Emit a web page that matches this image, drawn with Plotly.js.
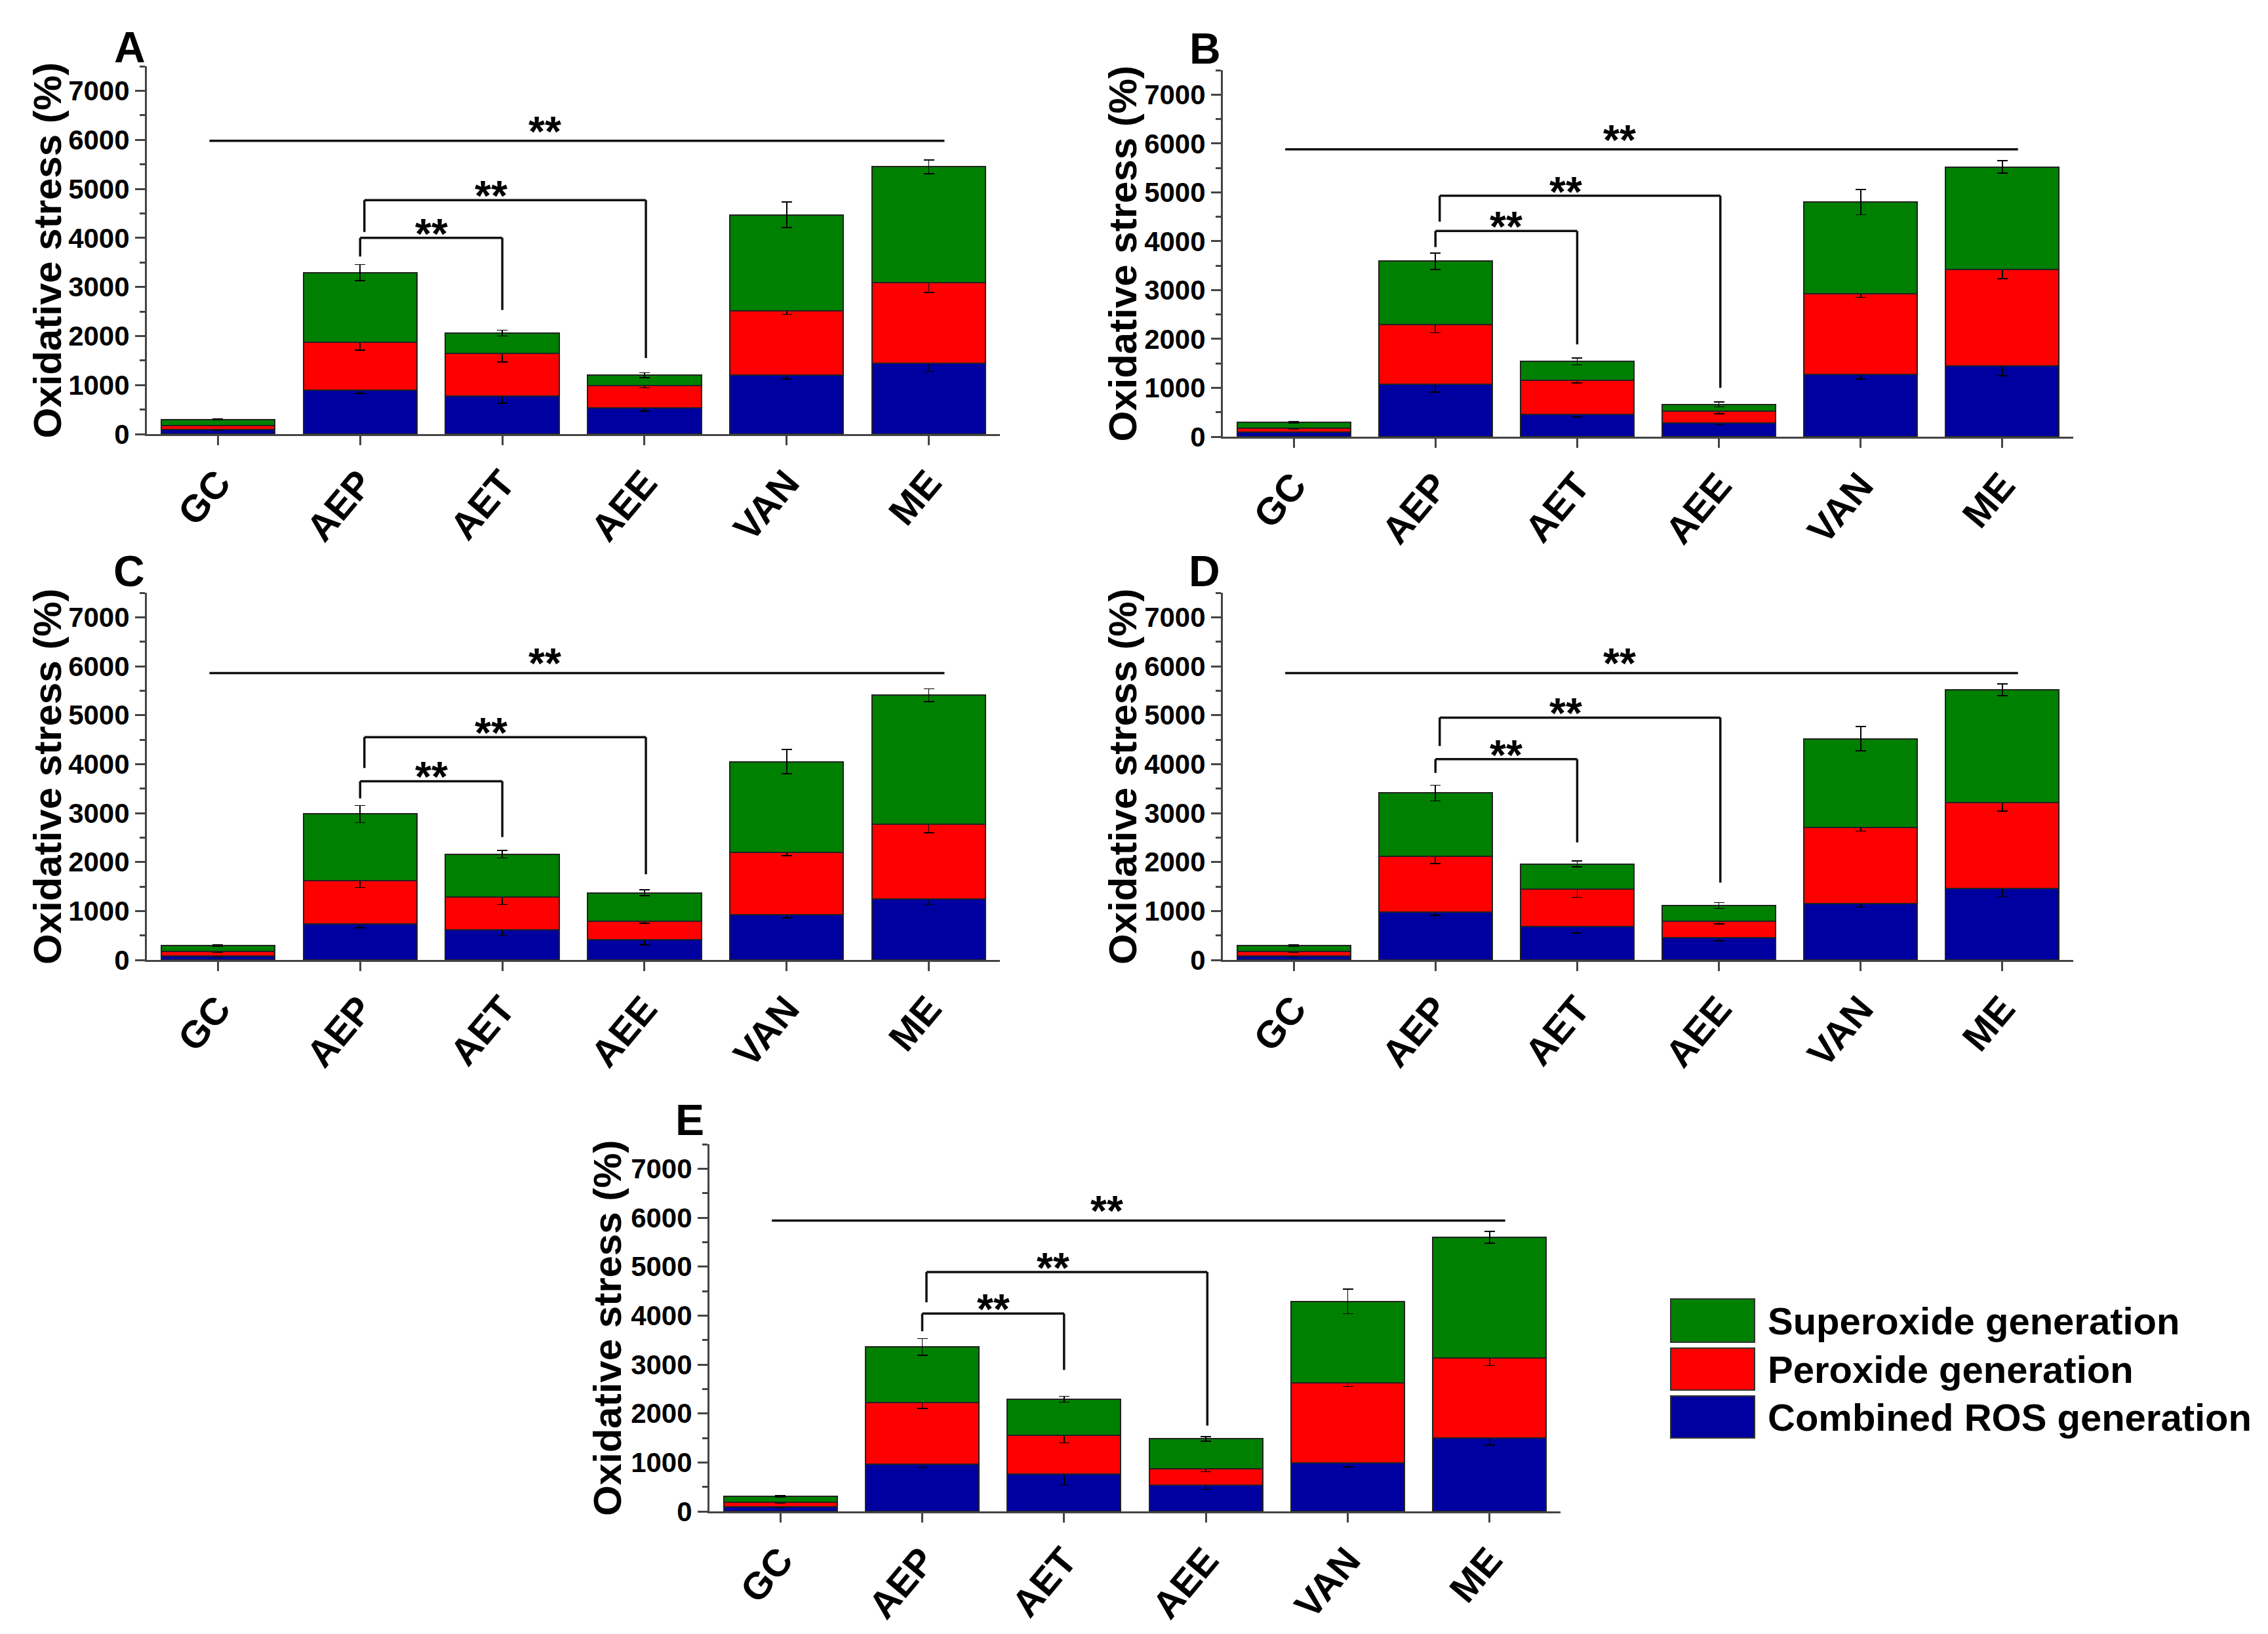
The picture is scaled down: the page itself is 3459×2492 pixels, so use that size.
<!DOCTYPE html>
<html>
<head>
<meta charset="utf-8">
<script src="https://cdn.plot.ly/plotly-3.0.1.min.js"></script>
<style>html,body{margin:0;padding:0;background:#fff;}</style>
</head>
<body>
<div id="chart"></div>
<script>
// categories and series
var groups = ['GC', 'AEP', 'AET', 'AEE', 'VAN', 'ME'];
var seriesNames = ['Combined ROS generation', 'Peroxide generation', 'Superoxide generation'];

// panel A (stacked segment values, %)
var rosA = [90, 900, 780, 530, 1200, 1450];
var perA = [90, 970, 860, 460, 1320, 1640];
var supA = [120, 1420, 420, 210, 1950, 2360];
var rosErrA = [15, 70, 150, 60, 80, 175];
var perErrA = [15, 160, 170, 50, 80, 200];
var supErrA = [15, 165, 60, 50, 260, 140];

// panel B
var rosB = [100, 1070, 460, 280, 1280, 1450];
var perB = [80, 1230, 700, 240, 1640, 1970];
var supB = [120, 1290, 380, 140, 1880, 2100];
var rosErrB = [15, 160, 60, 30, 100, 200];
var perErrB = [15, 175, 60, 50, 70, 190];
var supErrB = [15, 170, 70, 50, 260, 130];

// panel C
var rosC = [80, 730, 620, 410, 930, 1240];
var perC = [90, 890, 660, 380, 1270, 1530];
var supC = [130, 1360, 880, 580, 1850, 2640];
var rosErrC = [15, 75, 120, 100, 70, 110];
var perErrC = [15, 140, 150, 40, 70, 170];
var supErrC = [15, 175, 75, 60, 250, 130];

// panel D
var rosD = [80, 980, 680, 450, 1150, 1460];
var perD = [90, 1140, 770, 340, 1550, 1750];
var supD = [130, 1290, 510, 320, 1820, 2310];
var rosErrD = [15, 70, 130, 60, 70, 170];
var perErrD = [15, 150, 170, 50, 70, 170];
var supErrD = [15, 160, 60, 60, 250, 120];

// panel E
var rosE = [90, 960, 760, 540, 990, 1500];
var perE = [100, 1260, 790, 330, 1640, 1630];
var supE = [120, 1140, 740, 610, 1660, 2470];
var rosErrE = [15, 70, 220, 90, 80, 150];
var perErrE = [15, 120, 150, 60, 80, 150];
var supErrE = [15, 170, 60, 50, 250, 120];

// significance brackets: [bar level, left leg end, right leg end]
var sigA = {top: 5980, b1: [4000, 3620, 2530], b2: [4770, 4120, 1550]};
var sigB = {top: 5880, b1: [4210, 3880, 1890], b2: [4930, 4400, 1000]};
var sigC = {top: 5860, b1: [3650, 3300, 2510], b2: [4550, 3920, 1750]};
var sigD = {top: 5860, b1: [4100, 3820, 2400], b2: [4950, 4370, 1580]};
var sigE = {top: 5940, b1: [4040, 3680, 2890], b2: [4890, 4270, 1750]};

var W = 3459, H = 2492;
var FONT = 'Liberation Sans, Arial, sans-serif';
var colors = ['#0000a0', '#ff0000', '#008000'];
function px(x) { return x / W; }
function py(y) { return 1 - y / H; }

var panels = [
  {label: 'A', box: [224, 101, 1525, 662], letter: [198, 72], titleX: 72,
   vals: [rosA, perA, supA], errs: [rosErrA, perErrA, supErrA], sig: sigA},
  {label: 'B', box: [1865, 107, 3162, 666], letter: [1838, 74], titleX: 1712,
   vals: [rosB, perB, supB], errs: [rosErrB, perErrB, supErrB], sig: sigB},
  {label: 'C', box: [224, 904, 1525, 1464], letter: [197, 871], titleX: 72,
   vals: [rosC, perC, supC], errs: [rosErrC, perErrC, supErrC], sig: sigC},
  {label: 'D', box: [1865, 904, 3162, 1464], letter: [1837, 871], titleX: 1712,
   vals: [rosD, perD, supD], errs: [rosErrD, perErrD, supErrD], sig: sigD},
  {label: 'E', box: [1082, 1745, 2380, 2305], letter: [1052, 1708], titleX: 926,
   vals: [rosE, perE, supE], errs: [rosErrE, perErrE, supErrE], sig: sigE}
];

var data = [];
var shapes = [];
var annotations = [];
var layout = {
  width: W, height: H,
  margin: {l: 0, r: 0, t: 0, b: 0},
  paper_bgcolor: '#fff', plot_bgcolor: '#fff',
  barmode: 'stack', bargap: 0.2,
  showlegend: false,
  font: {family: FONT, color: '#000'}
};

var lineStyle = {color: '#111', width: 3.5};

panels.forEach(function (p, i) {
  var s = i === 0 ? '' : String(i + 1);
  var xr = 'x' + s, yr = 'y' + s;
  var b = p.box;

  layout['xaxis' + s] = {
    domain: [px(b[0]), px(b[2])], anchor: yr,
    type: 'category', range: [-0.5, 5.5],
    showline: true, linecolor: '#444', linewidth: 3,
    ticks: 'outside', ticklen: 14, tickwidth: 3, tickcolor: '#444',
    tickangle: -50,
    tickfont: {family: FONT, size: 58, color: '#000', weight: 'bold'},
    showgrid: false, zeroline: false, fixedrange: true
  };
  layout['yaxis' + s] = {
    domain: [py(b[3]), py(b[1])], anchor: xr,
    range: [0, 7500], tick0: 0, dtick: 1000,
    showline: true, linecolor: '#444', linewidth: 3,
    ticks: 'outside', ticklen: 15, tickwidth: 3, tickcolor: '#444',
    minor: {dtick: 500, ticks: 'outside', ticklen: 8, tickwidth: 3, tickcolor: '#444'},
    tickfont: {family: FONT, size: 42, color: '#000', weight: 'bold'},
    showgrid: false, zeroline: false, fixedrange: true
  };

  for (var k = 0; k < 3; k++) {
    data.push({
      type: 'bar', x: groups, y: p.vals[k], name: seriesNames[k],
      xaxis: xr, yaxis: yr,
      marker: {color: colors[k], line: {color: '#222', width: 2}},
      error_y: {type: 'data', array: p.errs[k], visible: true,
                color: '#000', thickness: 1.6, width: 8},
      hoverinfo: 'x+y+name'
    });
  }

  // panel letter
  annotations.push({
    xref: 'paper', yref: 'paper', x: px(p.letter[0]), y: py(p.letter[1]),
    xanchor: 'center', yanchor: 'middle', showarrow: false,
    text: p.label, font: {family: FONT, size: 66, color: '#000', weight: 'bold'}
  });
  // y axis title
  annotations.push({
    xref: 'paper', yref: 'paper', x: px(p.titleX), y: py((b[1] + b[3]) / 2),
    xanchor: 'center', yanchor: 'middle', showarrow: false, textangle: -90,
    text: 'Oxidative stress (%)',
    font: {family: FONT, size: 60, color: '#000', weight: 'bold'}
  });

  var g = p.sig;
  // long line GC..ME
  shapes.push({type: 'line', xref: xr, yref: yr, x0: -0.06, x1: 5.11,
               y0: g.top, y1: g.top, line: lineStyle});
  // AEP-AET bracket
  shapes.push({type: 'line', xref: xr, yref: yr, x0: 1, x1: 2,
               y0: g.b1[0], y1: g.b1[0], line: lineStyle});
  shapes.push({type: 'line', xref: xr, yref: yr, x0: 1, x1: 1,
               y0: g.b1[0], y1: g.b1[1], line: lineStyle});
  shapes.push({type: 'line', xref: xr, yref: yr, x0: 2, x1: 2,
               y0: g.b1[0], y1: g.b1[2], line: lineStyle});
  // AEP-AEE bracket
  shapes.push({type: 'line', xref: xr, yref: yr, x0: 1.03, x1: 3.01,
               y0: g.b2[0], y1: g.b2[0], line: lineStyle});
  shapes.push({type: 'line', xref: xr, yref: yr, x0: 1.03, x1: 1.03,
               y0: g.b2[0], y1: g.b2[1], line: lineStyle});
  shapes.push({type: 'line', xref: xr, yref: yr, x0: 3.01, x1: 3.01,
               y0: g.b2[0], y1: g.b2[2], line: lineStyle});

  var starFont = {family: FONT, size: 64, color: '#000', weight: 'bold'};
  [[2.3, g.top, -24], [1.5, g.b1[0], -32], [1.92, g.b2[0], -32]].forEach(function (st) {
    annotations.push({
      xref: xr, yref: yr, x: st[0], y: st[1], xanchor: 'center', yanchor: 'bottom',
      yshift: st[2], showarrow: false, text: '**', font: starFont
    });
  });
});

// legend (drawn by hand so the swatches can be large)
var legendOrder = [2, 1, 0];
var legendRows = [[1981, 2047], [2056, 2120], [2129, 2193]];
legendOrder.forEach(function (k, r) {
  var row = legendRows[r];
  shapes.push({type: 'rect', xref: 'paper', yref: 'paper',
               x0: px(2548), x1: px(2676), y0: py(row[1]), y1: py(row[0]),
               fillcolor: colors[k], line: {color: '#333', width: 2}});
  annotations.push({
    xref: 'paper', yref: 'paper', x: px(2694), y: py((row[0] + row[1]) / 2),
    xanchor: 'left', yanchor: 'middle', showarrow: false,
    text: seriesNames[k], font: {family: FONT, size: 58, color: '#000', weight: 'bold'}
  });
});

layout.shapes = shapes;
layout.annotations = annotations;

Plotly.newPlot('chart', data, layout, {staticPlot: true, displayModeBar: false});
</script>
</body>
</html>
